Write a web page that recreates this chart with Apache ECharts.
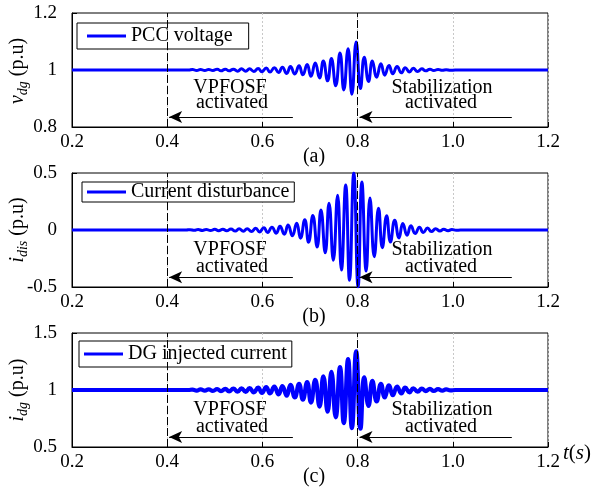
<!DOCTYPE html>
<html>
<head>
<meta charset="utf-8">
<script src="https://cdn.jsdelivr.net/npm/echarts@6/dist/echarts.min.js"></script>
<style>html,body{margin:0;padding:0;background:#fff;}#c{width:606px;height:489px;}</style>
</head>
<body>
<div id="c"></div>
<script>
// ---------- data (extrema) ----------
const xTickLabels = ['0.2', '0.4', '0.6', '0.8', '1.0', '1.2'];
const yTickLabelsA = ['0.8', '1', '1.2'];
const yTickLabelsB = ['-0.5', '0', '0.5'];
const yTickLabelsC = ['0.5', '1', '1.5'];
const seriesNames = ['PCC voltage', 'Current disturbance', 'DG injected current'];

// (a) PCC voltage
const tA = [0.2, 0.445, 0.453, 0.462, 0.470, 0.479, 0.487, 0.496, 0.505, 0.513, 0.522, 0.530, 0.539, 0.548, 0.556, 0.565, 0.573, 0.582, 0.591, 0.599, 0.608, 0.616, 0.625, 0.634, 0.642, 0.651, 0.659, 0.668, 0.677, 0.685, 0.694, 0.702, 0.711, 0.720, 0.728, 0.737, 0.745, 0.754, 0.763, 0.771, 0.780, 0.788, 0.797, 0.806, 0.814, 0.823, 0.831, 0.840, 0.849, 0.857, 0.866, 0.874, 0.883, 0.892, 0.900, 0.909, 0.917, 0.926, 0.935, 0.943, 0.952, 0.960, 0.969, 0.978, 0.986, 0.995, 1.005, 1.2];
const vA = [1, 1, 1.002, 0.998, 1.002, 0.998, 1.002, 0.998, 1.003, 0.997, 1.003, 0.997, 1.003, 0.996, 1.004, 0.996, 1.004, 0.995, 1.005, 0.994, 1.007, 0.993, 1.008, 0.991, 1.010, 0.988, 1.012, 0.986, 1.015, 0.983, 1.019, 0.978, 1.025, 0.972, 1.032, 0.962, 1.040, 0.945, 1.060, 0.930, 1.075, 0.915, 1.098, 0.935, 1.045, 0.960, 1.032, 0.975, 1.022, 0.982, 1.016, 0.987, 1.012, 0.990, 1.008, 0.993, 1.006, 0.995, 1.004, 0.997, 1.003, 0.998, 1.002, 0.999, 1.001, 0.999, 1, 1];

// (b) Current disturbance
const tB = [0.2, 0.44, 0.448, 0.457, 0.465, 0.474, 0.482, 0.491, 0.500, 0.508, 0.517, 0.525, 0.534, 0.543, 0.551, 0.560, 0.568, 0.577, 0.586, 0.594, 0.603, 0.611, 0.620, 0.629, 0.637, 0.646, 0.654, 0.663, 0.672, 0.680, 0.689, 0.697, 0.706, 0.715, 0.723, 0.732, 0.740, 0.749, 0.758, 0.766, 0.775, 0.783, 0.792, 0.801, 0.809, 0.818, 0.826, 0.835, 0.844, 0.852, 0.861, 0.869, 0.878, 0.887, 0.895, 0.904, 0.912, 0.921, 0.930, 0.938, 0.947, 0.955, 0.964, 0.973, 0.981, 0.990, 0.998, 1.007, 1.016, 1.2];
const vB = [0, 0, 0.003, -0.003, 0.004, -0.004, 0.005, -0.005, 0.006, -0.006, 0.007, -0.007, 0.008, -0.009, 0.010, -0.011, 0.012, -0.013, 0.015, -0.017, 0.020, -0.022, 0.025, -0.028, 0.032, -0.037, 0.043, -0.050, 0.060, -0.072, 0.090, -0.108, 0.128, -0.150, 0.175, -0.200, 0.235, -0.265, 0.305, -0.350, 0.395, -0.440, 0.500, -0.500, 0.420, -0.360, 0.280, -0.235, 0.190, -0.155, 0.125, -0.105, 0.085, -0.070, 0.056, -0.046, 0.037, -0.030, 0.025, -0.021, 0.017, -0.014, 0.011, -0.009, 0.007, -0.006, 0.004, -0.003, 0, 0];

// (c) DG injected current
const tC = [0.2, 0.445, 0.453, 0.462, 0.470, 0.479, 0.487, 0.496, 0.505, 0.513, 0.522, 0.530, 0.539, 0.548, 0.556, 0.565, 0.573, 0.582, 0.591, 0.599, 0.608, 0.616, 0.625, 0.634, 0.642, 0.651, 0.659, 0.668, 0.677, 0.685, 0.694, 0.702, 0.711, 0.720, 0.728, 0.737, 0.745, 0.754, 0.763, 0.771, 0.780, 0.788, 0.797, 0.806, 0.814, 0.823, 0.831, 0.840, 0.849, 0.857, 0.866, 0.874, 0.883, 0.892, 0.900, 0.909, 0.917, 0.926, 0.935, 0.943, 0.952, 0.960, 0.969, 0.978, 0.986, 0.995, 1.005, 1.2];
const vC = [1, 1, 1.004, 0.995, 1.005, 0.994, 1.006, 0.992, 1.008, 0.990, 1.010, 0.988, 1.012, 0.986, 1.014, 0.983, 1.017, 0.980, 1.020, 0.975, 1.025, 0.970, 1.030, 0.962, 1.035, 0.950, 1.045, 0.935, 1.055, 0.915, 1.070, 0.890, 1.090, 0.855, 1.120, 0.810, 1.160, 0.760, 1.200, 0.710, 1.270, 0.665, 1.340, 0.660, 1.110, 0.860, 1.080, 0.900, 1.055, 0.935, 1.040, 0.955, 1.030, 0.970, 1.020, 0.980, 1.015, 0.985, 1.012, 0.990, 1.009, 0.992, 1.007, 0.994, 1.005, 0.996, 1, 1];

// annotation arrow heights (data units) per panel
const arrowY = [0.835, -0.415, 0.588];

// ---------- chart ----------
const FONT = '"Liberation Serif", "Times New Roman", serif';
const BLUE = '#0000ff';
const chart = echarts.init(document.getElementById('c'), null, {renderer: 'canvas'});

const grids = [
  {left: 72, top: 13, width: 476, height: 114},
  {left: 72, top: 173, width: 476, height: 114},
  {left: 72, top: 333, width: 476, height: 114}
];
const yRanges = [
  {min: 0.8, max: 1.2, interval: 0.2, labels: yTickLabelsA},
  {min: -0.5, max: 0.5, interval: 0.5, labels: yTickLabelsB},
  {min: 0.5, max: 1.5, interval: 0.5, labels: yTickLabelsC}
];

const xAxes = grids.map((g, i) => ({
  type: 'value', gridIndex: i, min: 0.2, max: 1.2, interval: 0.2,
  axisLine: {show: true, onZero: false, lineStyle: {color: '#000', width: 1}},
  axisTick: {show: true, inside: true, length: 5, lineStyle: {color: '#000'}},
  axisLabel: {color: '#000', fontFamily: FONT, fontSize: 19, margin: 6,
    formatter: v => xTickLabels[Math.round((v - 0.2) / 0.2)]},
  splitLine: {show: true, lineStyle: {color: '#c8c8c8', type: [2, 2], width: 1}}
}));
const yAxes = yRanges.map((r, i) => ({
  type: 'value', gridIndex: i, min: r.min, max: r.max, interval: r.interval,
  axisLine: {show: true, onZero: false, lineStyle: {color: '#000', width: 1}},
  axisTick: {show: true, inside: true, length: 5, lineStyle: {color: '#000'}},
  axisLabel: {color: '#000', fontFamily: FONT, fontSize: 19, margin: 15,
    formatter: v => r.labels[Math.round((v - r.min) / r.interval)]},
  splitLine: {show: false}
}));

function marks(i) {
  const y = arrowY[i];
  const arrowStyle = {type: 'solid', width: 1.2, color: '#000'};
  return {
    silent: true, animation: false, symbol: ['none', 'none'],
    label: {show: false},
    lineStyle: {color: '#000', width: 1, type: [8, 3]},
    emphasis: {disabled: true},
    data: [
      {xAxis: 0.4},
      {xAxis: 0.8},
      [{coord: [0.664, y], symbol: 'none', lineStyle: arrowStyle},
       {coord: [0.404, y], symbol: 'arrow', symbolSize: [9, 13]}],
      [{coord: [1.124, y], symbol: 'none', lineStyle: arrowStyle},
       {coord: [0.804, y], symbol: 'arrow', symbolSize: [9, 13]}]
    ]
  };
}

const datasets = [[tA, vA, 3], [tB, vB, 3], [tC, vC, 4.2]];
const series = datasets.map((d, i) => ({
  type: 'line', name: seriesNames[i], xAxisIndex: i, yAxisIndex: i,
  data: d[0].map((t, k) => [t, d[1][k]]),
  smooth: 0.5, symbol: 'none', showSymbol: false, animation: false,
  lineStyle: {color: BLUE, width: d[2]}, itemStyle: {color: BLUE},
  markLine: marks(i)
}));

const legendCommon = {
  orient: 'horizontal', itemGap: 0, itemWidth: 39, itemHeight: 3, icon: 'rect',
  borderColor: '#000', borderWidth: 1, borderRadius: 0, backgroundColor: '#fff',
  selectedMode: false,
  textStyle: {fontFamily: FONT, fontSize: 20, color: '#000'}
};
const legends = [
  Object.assign({}, legendCommon, {data: [seriesNames[0]], left: 77, top: 23, padding: [3, 16, 3, 10]}),
  Object.assign({}, legendCommon, {data: [seriesNames[1]], left: 82, top: 182, padding: [0, 5, 0, 5]}),
  Object.assign({}, legendCommon, {data: [seriesNames[2]], left: 79, top: 341, padding: [3, 5, 3, 5]})
];

// text helpers
const ctx = document.createElement('canvas').getContext('2d');
function measure(font, s) { ctx.font = font; return ctx.measureText(s).width; }
function yName(cx, cy, main, sub) {
  const fMain = 'italic 20px ' + FONT, fSub = 'italic 14px ' + FONT, fRest = '20px ' + FONT;
  const w1 = measure(fMain, main), w2 = measure(fSub, sub), w3 = measure(fRest, ' (p.u)');
  const x0 = -(w1 + w2 + w3) / 2;
  const base = {fill: '#000', verticalAlign: 'middle', align: 'left'};
  return {type: 'group', x: cx, y: cy, rotation: Math.PI / 2, children: [
    {type: 'text', x: x0, y: 0, style: Object.assign({text: main, font: fMain}, base)},
    {type: 'text', x: x0 + w1, y: 5, style: Object.assign({text: sub, font: fSub}, base)},
    {type: 'text', x: x0 + w1 + w2, y: 0, style: Object.assign({text: ' (p.u)', font: fRest}, base)}
  ]};
}
function txt(x, y, s, size) {
  return {type: 'text', x: x, y: y, style: {text: s, font: (size || 20) + 'px ' + FONT, fill: '#000', align: 'center', verticalAlign: 'middle'}};
}
const annY = [[87.5, 102.5], [250, 267], [410, 427]];
const graphics = [
  yName(18, 71, 'v', 'dg'),
  yName(18, 230, 'i', 'dis'),
  yName(18, 390, 'i', 'dg'),
  txt(314, 157, '(a)'), txt(314, 317, '(b)'), txt(314, 477, '(c)'),
  {type: 'text', x: 577, y: 453, style: {text: '{i|t}{r|(}{i|s}{r|)}', align: 'center', verticalAlign: 'middle',
    rich: {i: {fontFamily: FONT, fontSize: 21, fontStyle: 'italic', fill: '#000'}, r: {fontFamily: FONT, fontSize: 21, fill: '#000'}}}}
];
annY.forEach(a => {
  graphics.push(txt(230, a[0], 'VPFOSF'), txt(232, a[1], 'activated'),
    txt(442, a[0], 'Stabilization'), txt(441, a[1], 'activated'));
});

chart.setOption({
  backgroundColor: '#fff',
  animation: false,
  grid: grids.map(g => Object.assign({show: true, borderColor: '#000', borderWidth: 1, backgroundColor: 'transparent'}, g)),
  xAxis: xAxes,
  yAxis: yAxes,
  legend: legends,
  series: series,
  graphic: graphics
});
</script>
</body>
</html>
